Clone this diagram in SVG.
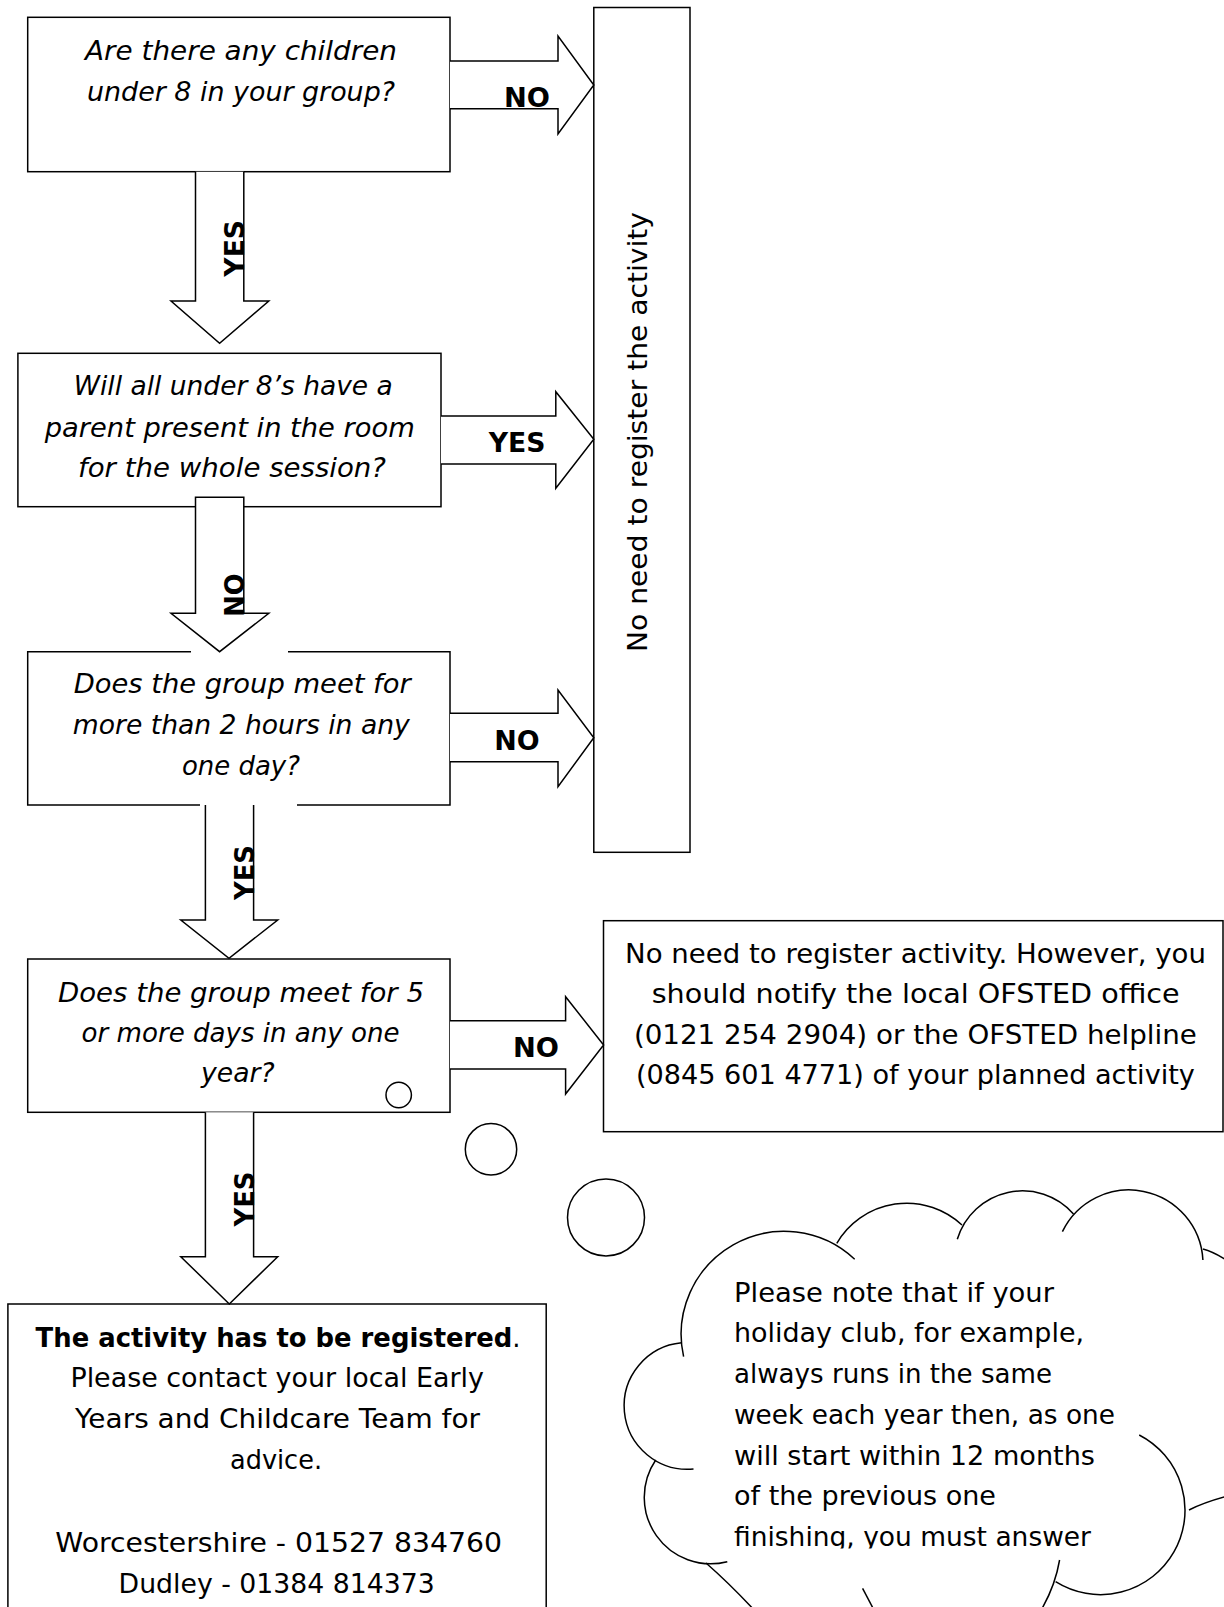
<svg xmlns="http://www.w3.org/2000/svg" width="1224" height="1607" viewBox="0 0 1224 1607">
<style>
.box{fill:#fff;stroke:#000;stroke-width:1.5}
.edge{fill:none;stroke:#000;stroke-width:1.5}
.arr{fill:#fff;stroke:#000;stroke-width:1.5;stroke-linejoin:miter}
.cl{fill:none;stroke:#000;stroke-width:1.5}
.t{font-family:"DejaVu Sans","Liberation Sans",sans-serif;font-size:27px;fill:#000}
.i{font-style:italic}
.b{font-weight:bold}
.lbl{font-family:"DejaVu Sans","Liberation Sans",sans-serif;font-size:27px;font-weight:bold;fill:#000}
</style>
<defs>
<clipPath id="cloudClip"><rect x="700" y="1250" width="524" height="298.5"/></clipPath>
</defs>
<rect width="1224" height="1607" fill="#fff"/>

<g id="node-q1">
<rect class="box" x="27.7" y="17.3" width="422.3" height="154.4"/>
<text class="t i" text-anchor="middle" x="241" y="60" textLength="312" lengthAdjust="spacingAndGlyphs">Are there any children</text>
<text class="t i" text-anchor="middle" x="241" y="101" textLength="308" lengthAdjust="spacingAndGlyphs">under 8 in your group?</text>
</g>

<g id="node-q2">
<rect class="box" x="17.9" y="353.3" width="423.1" height="153.4"/>
<text class="t i" text-anchor="middle" x="233.3" y="395" textLength="319" lengthAdjust="spacingAndGlyphs">Will all under 8’s have a</text>
<text class="t i" text-anchor="middle" x="229.8" y="436.5" textLength="370" lengthAdjust="spacingAndGlyphs">parent present in the room</text>
<text class="t i" text-anchor="middle" x="232" y="477" textLength="308" lengthAdjust="spacingAndGlyphs">for the whole session?</text>
</g>

<g id="node-q3">
<rect x="27.7" y="651.7" width="422.3" height="153.3" fill="#fff"/>
<path class="edge" d="M191,651.7 H27.7 V805 H200 M297,805 H450 V651.7 H288"/>
<text class="t i" text-anchor="middle" x="242.2" y="693.3" textLength="337" lengthAdjust="spacingAndGlyphs">Does the group meet for</text>
<text class="t i" text-anchor="middle" x="241.3" y="734.3" textLength="337" lengthAdjust="spacingAndGlyphs">more than 2 hours in any</text>
<text class="t i" text-anchor="middle" x="241" y="775" textLength="118" lengthAdjust="spacingAndGlyphs">one day?</text>
</g>

<g id="node-q4">
<rect class="box" x="27.7" y="959" width="422.3" height="153.3"/>
<text class="t i" text-anchor="middle" x="241" y="1001.7" textLength="366" lengthAdjust="spacingAndGlyphs">Does the group meet for 5</text>
<text class="t i" text-anchor="middle" x="240.6" y="1041.7" textLength="318" lengthAdjust="spacingAndGlyphs">or more days in any one</text>
<text class="t i" text-anchor="middle" x="237.8" y="1081.7" textLength="73.5" lengthAdjust="spacingAndGlyphs">year?</text>
</g>

<g id="node-no-register">
<rect class="box" x="593.8" y="7.5" width="96.2" height="844.8"/>
<text class="t" text-anchor="middle" transform="translate(647,432) rotate(-90)" x="0" y="0" textLength="440" lengthAdjust="spacingAndGlyphs">No need to register the activity</text>
</g>

<g id="node-ofsted">
<rect class="box" x="603.5" y="920.7" width="619.5" height="211"/>
<text class="t" text-anchor="middle" x="915.5" y="963.3" textLength="581" lengthAdjust="spacingAndGlyphs">No need to register activity. However, you</text>
<text class="t" text-anchor="middle" x="915.7" y="1003.3" textLength="528" lengthAdjust="spacingAndGlyphs">should notify the local OFSTED office</text>
<text class="t" text-anchor="middle" x="915.4" y="1044" textLength="563" lengthAdjust="spacingAndGlyphs">(0121 254 2904) or the OFSTED helpline</text>
<text class="t" text-anchor="middle" x="915.4" y="1084.3" textLength="559" lengthAdjust="spacingAndGlyphs">(0845 601 4771) of your planned activity</text>
</g>

<g id="node-register">
<rect class="box" x="7.9" y="1304" width="538.3" height="330"/>
<text class="t" x="35.6" y="1346.7" textLength="485" lengthAdjust="spacingAndGlyphs"><tspan class="b">The activity has to be registered</tspan>.</text>
<text class="t" text-anchor="middle" x="277.2" y="1387.3" textLength="413.6" lengthAdjust="spacingAndGlyphs">Please contact your local Early</text>
<text class="t" text-anchor="middle" x="277.5" y="1428.3" textLength="405" lengthAdjust="spacingAndGlyphs">Years and Childcare Team for</text>
<text class="t" text-anchor="middle" x="276" y="1469.3" textLength="92" lengthAdjust="spacingAndGlyphs">advice.</text>
<text class="t" text-anchor="middle" x="278.7" y="1551.7" textLength="446.7" lengthAdjust="spacingAndGlyphs">Worcestershire - 01527 834760</text>
<text class="t" text-anchor="middle" x="276.7" y="1592.7" textLength="316.2" lengthAdjust="spacingAndGlyphs">Dudley - 01384 814373</text>
</g>

<g id="node-note">
<circle class="cl" cx="398.7" cy="1095" r="12.7"/>
<circle class="cl" cx="491" cy="1149.3" r="25.7"/>
<circle class="cl" cx="606" cy="1217.4" r="38.5"/>
<path class="cl" d="M683.6,1356.7 A103,103 0 0,1 854.7,1259.3"/>
<path class="cl" d="M836.8,1243.3 A81,81 0 0,1 962,1225"/>
<path class="cl" d="M957.3,1239.3 A68,68 0 0,1 1073.5,1214"/>
<path class="cl" d="M1062.4,1231.7 A74,74 0 0,1 1202.9,1260"/>
<path class="cl" d="M1203,1249 Q1214,1252 1228,1261"/>
<path class="cl" d="M681.6,1342.7 A63,63 0 1,0 693.5,1469"/>
<path class="cl" d="M655.7,1460 A66.5,66.5 0 0,0 727.3,1561.7"/>
<path class="cl" d="M706,1563 Q730,1584 756,1612"/>
<path class="cl" d="M862.6,1588.3 L875,1612"/>
<path class="cl" d="M1059.6,1560 Q1055,1587 1040,1612"/>
<path class="cl" d="M1139.2,1435 A84.5,84.5 0 1,1 1055.6,1581.7"/>
<path class="cl" d="M1189,1510 Q1205,1502 1228,1496"/>
<g clip-path="url(#cloudClip)">
<text class="t" x="734" y="1301.5" textLength="320" lengthAdjust="spacingAndGlyphs">Please note that if your</text>
<text class="t" x="734" y="1342" textLength="350" lengthAdjust="spacingAndGlyphs">holiday club, for example,</text>
<text class="t" x="734" y="1383" textLength="318" lengthAdjust="spacingAndGlyphs">always runs in the same</text>
<text class="t" x="734" y="1423.5" textLength="381" lengthAdjust="spacingAndGlyphs">week each year then, as one</text>
<text class="t" x="734" y="1465" textLength="361" lengthAdjust="spacingAndGlyphs">will start within 12 months</text>
<text class="t" x="734" y="1505" textLength="262" lengthAdjust="spacingAndGlyphs">of the previous one</text>
<text class="t" x="734" y="1546" textLength="357" lengthAdjust="spacingAndGlyphs">finishing, you must answer</text>
</g>
</g>

<g id="connectors">
<path class="arr" d="M450,61 H558 V36 L593.8,85 L558,134 V108.7 H450"/>
<path class="arr" d="M441,416 H555.8 V391.7 L593.8,439.3 L555.8,488.3 V464 H441"/>
<path class="arr" d="M450,713.3 H558 V690 L593.8,737.7 L558,786.7 V761.7 H450"/>
<path class="arr" d="M450,1020.7 H565.6 V996.7 L603.6,1045 L565.6,1094 V1069 H450"/>
<path class="arr" d="M195.5,171.7 V301 H171 L219.6,343.3 L268.8,301 H243.8 V171.7"/>
<path class="arr" d="M195.5,497.3 V613.3 H171 L219.6,651.7 L268.8,613.3 H243.8 V497.3 Z"/>
<path class="arr" d="M205.4,805 V920 H180.8 L229,958.3 L277.7,920 H253.6 V805"/>
<path class="arr" d="M205.4,1112.3 V1256.7 H180.8 L229.3,1304 L277.7,1256.7 H253.6 V1112.3"/>
<text class="lbl" text-anchor="middle" x="527" y="107" textLength="46" lengthAdjust="spacingAndGlyphs">NO</text>
<text class="lbl" text-anchor="middle" x="517" y="451.7" textLength="56.7" lengthAdjust="spacingAndGlyphs">YES</text>
<text class="lbl" text-anchor="middle" x="517" y="750" textLength="45.4" lengthAdjust="spacingAndGlyphs">NO</text>
<text class="lbl" text-anchor="middle" x="536" y="1056.7" textLength="46" lengthAdjust="spacingAndGlyphs">NO</text>
<text class="lbl" text-anchor="middle" transform="translate(244,248.3) rotate(-90)" x="0" y="0" textLength="56.7" lengthAdjust="spacingAndGlyphs">YES</text>
<text class="lbl" text-anchor="middle" transform="translate(244,595) rotate(-90)" x="0" y="0" textLength="43.4" lengthAdjust="spacingAndGlyphs">NO</text>
<text class="lbl" text-anchor="middle" transform="translate(253.6,872.5) rotate(-90)" x="0" y="0" textLength="55" lengthAdjust="spacingAndGlyphs">YES</text>
<text class="lbl" text-anchor="middle" transform="translate(253.6,1199) rotate(-90)" x="0" y="0" textLength="55" lengthAdjust="spacingAndGlyphs">YES</text>
</g>
</svg>
